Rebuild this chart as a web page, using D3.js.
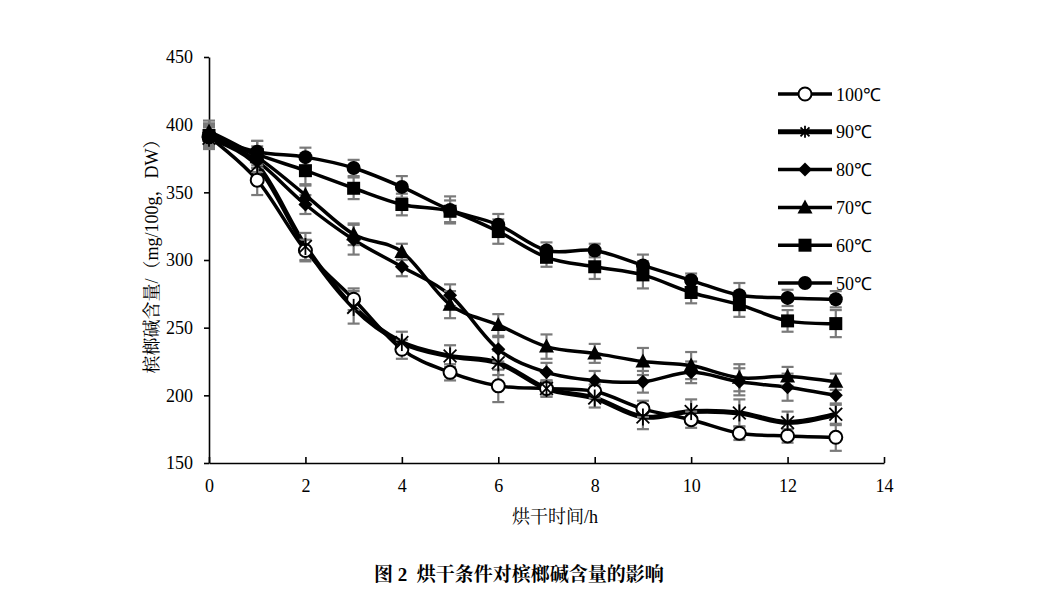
<!DOCTYPE html>
<html><head><meta charset="utf-8">
<script src="https://cdn.jsdelivr.net/npm/d3@7"></script>
<style>body{margin:0;background:#fff}svg{display:block}</style>
</head><body>
<svg id="c" width="1050" height="596"></svg>
<script>
const hours = [0,1,2,3,4,5,6,7,8,9,10,11,12,13];
const seriesNames = ["100℃","90℃","80℃","70℃","60℃","50℃"];
const v100 = [391,359,307,271,234,217,207,205,203,190,182,172,170,169];
const v90  = [390,370,310,265,239,229,224,205,198,184,188,187,180,186];
const v80  = [393,373,341,315,295,274,234,217,211,210,217,210,206,200];
const v70  = [395,376,348,319,306,267,252,236,231,225,222,213,214,210];
const v60  = [392,378,366,353,341,336,321,302,295,289,276,267,255,253];
const v50  = [391,380,376,368,354,337,326,307,307,296,285,274,272,271];
const e100 = [8,11,8,8,7,6,12,6,5,6,6,5,5,10];
const e90  = [8,10,10,12,8,8,9,6,7,9,9,10,8,8];
const e80  = [8,8,7,11,7,8,9,7,7,8,8,10,10,7];
const e70  = [8,8,7,8,6,10,8,9,7,10,10,10,7,6];
const e60  = [8,10,10,8,8,8,9,7,9,10,8,9,8,10];
const e50  = [8,8,7,6,8,10,8,6,5,8,5,9,6,6];
const xTicks = [0,2,4,6,8,10,12,14];
const yTicks = [150,200,250,300,350,400,450];
const markers = ["openCircle","asterisk","diamond","triangle","square","circle"];

const values = [v100,v90,v80,v70,v60,v50];
const errs = [e100,e90,e80,e70,e60,e50];
const series = seriesNames.map((n,i)=>({name:n, marker:markers[i], vals:values[i], errs:errs[i], width: i===1?5:3.5}));

const svg = d3.select("#c");
const L=209,R=884,T=57,B=463;
const x = d3.scaleLinear().domain([0,14]).range([L,R]);
const y = d3.scaleLinear().domain([150,450]).range([B,T]);
const serif = "'Liberation Serif','Times New Roman',serif";
const cjk = "'Liberation Serif','Noto Serif CJK SC','Noto Sans CJK SC',serif";

// axes
const xa = svg.append("g").attr("transform",`translate(0,${B})`)
  .call(d3.axisBottom(x).tickValues(xTicks).tickSizeInner(-6).tickSizeOuter(0).tickPadding(16).tickFormat(d3.format("d")));
const ya = svg.append("g").attr("transform",`translate(${L},0)`)
  .call(d3.axisLeft(y).tickValues(yTicks).tickSizeInner(5).tickSizeOuter(0).tickPadding(11).tickFormat(d3.format("d")));
[xa,ya].forEach(a=>{
  a.selectAll("path").attr("stroke","#000").attr("stroke-width",1.6);
  a.selectAll("line").attr("stroke","#000").attr("stroke-width",1.6);
  a.selectAll("text").attr("font-family",serif).attr("font-size",18).attr("fill","#000");
});

const line = d3.line().x((d,i)=>x(hours[i])).y(d=>y(d)).curve(d3.curveCatmullRom.alpha(0));

// lines
series.forEach(s=>{
  svg.append("path").datum(s.vals).attr("d",line).attr("fill","none")
    .attr("stroke","#000").attr("stroke-width",s.width).attr("stroke-linejoin","round");
});
// error bars
series.forEach(s=>{
  const g = svg.append("g").attr("stroke","#7a7a7a").attr("stroke-width",2.2);
  s.vals.forEach((v,i)=>{
    const cx=x(hours[i]), y1=y(v+s.errs[i]), y2=y(v-s.errs[i]);
    g.append("line").attr("x1",cx).attr("x2",cx).attr("y1",y1).attr("y2",y2);
    g.append("line").attr("x1",cx-6).attr("x2",cx+6).attr("y1",y1).attr("y2",y1);
    g.append("line").attr("x1",cx-6).attr("x2",cx+6).attr("y1",y2).attr("y2",y2);
  });
});

function drawMarker(g,type,cx,cy,scale){
  const k = scale||1;
  if(type==="openCircle") g.append("circle").attr("cx",cx).attr("cy",cy).attr("r",6.5).attr("fill","#fff").attr("stroke","#000").attr("stroke-width",2);
  else if(type==="circle") g.append("circle").attr("cx",cx).attr("cy",cy).attr("r",7).attr("fill","#000");
  else if(type==="square") g.append("rect").attr("x",cx-6.5).attr("y",cy-6.5).attr("width",13).attr("height",13).attr("fill","#000");
  else if(type==="triangle") g.append("path").attr("d",`M${cx},${cy-8}L${cx+7.5},${cy+6}L${cx-7.5},${cy+6}Z`).attr("fill","#000");
  else if(type==="diamond") g.append("path").attr("d",`M${cx},${cy-7}L${cx+7},${cy}L${cx},${cy+7}L${cx-7},${cy}Z`).attr("fill","#000");
  else if(type==="asterisk"){
    const r=8.5*k, d=r*0.75;
    [[0,-r,0,r],[-d,-d,d,d],[-d,d,d,-d]].forEach(p=>
      g.append("line").attr("x1",cx+p[0]).attr("y1",cy+p[1]).attr("x2",cx+p[2]).attr("y2",cy+p[3]).attr("stroke","#000").attr("stroke-width",1.8));
  }
}
// markers
series.forEach(s=>{
  const g=svg.append("g");
  s.vals.forEach((v,i)=>drawMarker(g,s.marker,x(hours[i]),y(v)));
});

// legend
series.forEach((s,i)=>{
  const ly = 94 + i*37.8;
  const g = svg.append("g");
  g.append("line").attr("x1",778).attr("x2",832).attr("y1",ly).attr("y2",ly).attr("stroke","#000").attr("stroke-width",s.width);
  drawMarker(g,s.marker,805,ly,0.7);
  g.append("text").attr("x",836).attr("y",ly+6.5).attr("font-family",serif).attr("font-size",18).text(s.name);
});

// axis titles
svg.append("text").attr("x",555).attr("y",523).attr("text-anchor","middle")
  .attr("font-family",cjk).attr("font-size",18).text("烘干时间/h");
svg.append("text").attr("transform","translate(158,252) rotate(-90)").attr("text-anchor","middle")
  .attr("font-family",cjk).attr("font-size",18).text("槟榔碱含量/（mg/100g，DW）");
svg.append("text").attr("x",519).attr("y",581).attr("text-anchor","middle")
  .style("white-space","pre").attr("xml:space","preserve")
  .attr("font-family",cjk).attr("font-size",19).attr("font-weight","bold").text("图 2  烘干条件对槟榔碱含量的影响");
</script>
</body></html>
